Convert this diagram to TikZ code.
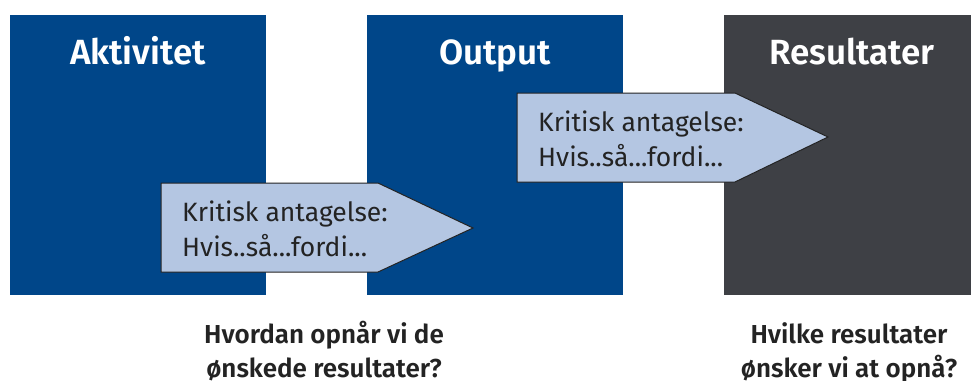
\documentclass[tikz,border=0pt]{standalone}
\usepackage{fontspec}
\setmainfont{Fira Sans}
\newfontfamily\semibold{Fira Sans SemiBold}
\definecolor{boxblue}{RGB}{0,70,137}
\definecolor{boxgray}{RGB}{62,64,69}
\definecolor{assumefill}{RGB}{180,198,226}
\definecolor{textdark}{RGB}{35,35,35}
\tikzset{
	title/.style={text=white, font=\fontsize{35}{42}\selectfont\semibold, anchor=base, inner sep=0pt},
	assume/.style={fill=assumefill, draw=textdark, line width=1pt, line join=miter},
	assumetext/.style={text=textdark, font=\fontsize{26.5}{35}\selectfont, align=left, anchor=base west, inner sep=0pt},
	question/.style={text=textdark, font=\fontsize{26}{34}\selectfont\semibold, align=center, anchor=base, inner sep=0pt},
}
\begin{document}
\begin{tikzpicture}[x=1pt, y=-1pt]
			\def\ytop{15}
			\def\ybot{295}
			\useasboundingbox (0,0) rectangle (971,380);
			% boxes
			\fill[boxblue] (10,\ytop) rectangle (266,\ybot);
			\fill[boxblue] (367,\ytop) rectangle (623,\ybot);
			\fill[boxgray] (724,\ytop) rectangle (980,\ybot);
			\node[title] (akt) at (138,64) {Aktivitet};
			\node[title] (out) at (495,64) {Output};
			\node[title] (res) at (852,64) {Resultater};
			% assumptions (anchor is the baseline of the last line)
			\draw[assume] (161,183)--(378,183)--(473,228)--(378,272)--(161,272)--cycle;
			\node[assumetext] (ant1) at (182,256) {Kritisk antagelse:\\Hvis..så...fordi...};
			\draw[assume] (517,93)--(735,93)--(828,137)--(735,182)--(517,182)--cycle;
			\node[assumetext] (ant2) at (538,166) {Kritisk antagelse:\\Hvis..så...fordi...};
			% questions
			\node[question] (hvordan) at (324,377) {Hvordan opnår vi de\\ønskede resultater?};
			\node[question] (hvilke) at (849,377) {Hvilke resultater\\ønsker vi at opnå?};
		\end{tikzpicture}
\end{document}
